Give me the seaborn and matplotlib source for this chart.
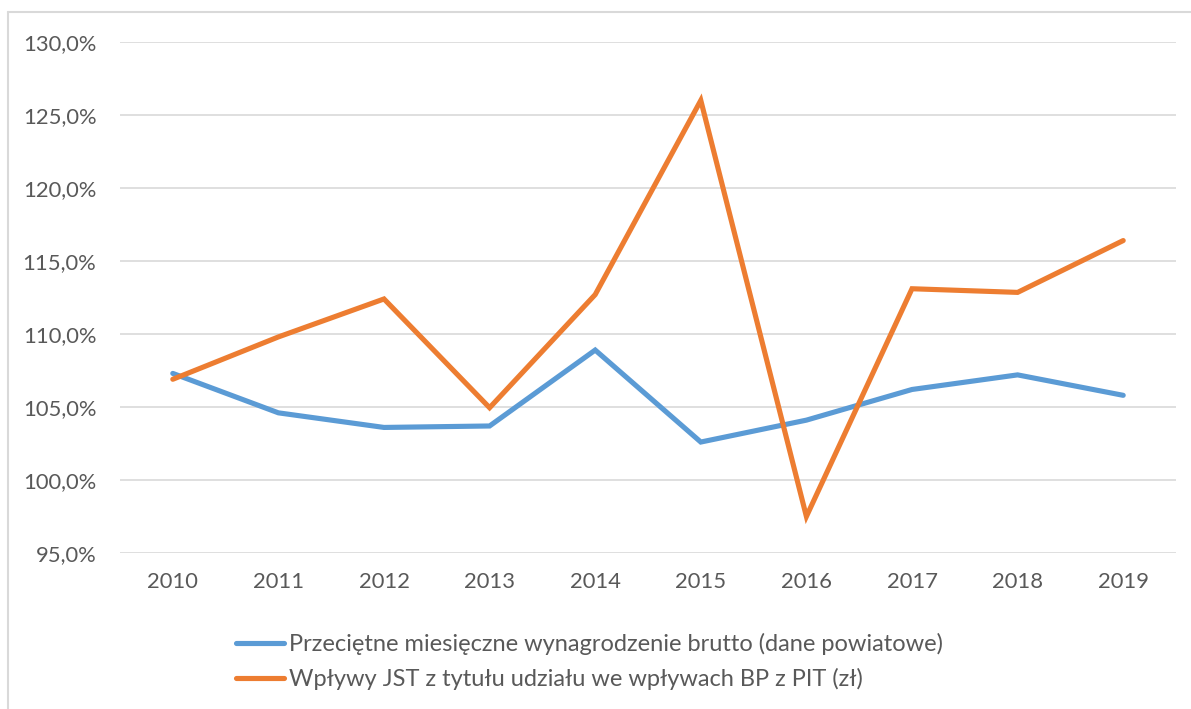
import matplotlib
matplotlib.use("Agg")
import matplotlib.pyplot as plt
from matplotlib.lines import Line2D
import seaborn as sns
import pandas as pd

years = [2010, 2011, 2012, 2013, 2014, 2015, 2016, 2017, 2018, 2019]
wages = [107.3, 104.6, 103.6, 103.7, 108.9, 102.6, 104.1, 106.2, 107.2, 105.8]
pit = [106.9, 109.8, 112.4, 104.95, 112.7, 126.0, 97.5, 113.1, 112.85, 116.4]
series_names = [
    "Przeciętne miesięczne wynagrodzenie brutto (dane powiatowe)",
    "Wpływy JST z tytułu udziału we wpływach BP z PIT (zł)",
]
y_ticks = [95, 100, 105, 110, 115, 120, 125, 130]

df = pd.DataFrame({
    "year": years * 2,
    "value": wages + pit,
    "series": [series_names[0]] * len(years) + [series_names[1]] * len(years),
})

sns.set_theme(style="white")
plt.rcParams["font.family"] = ["Lato", "DejaVu Sans"]
text_color = "#595959"
colors = ["#5B9BD5", "#ED7D31"]

fig = plt.figure(figsize=(11.91, 7.09), dpi=100)
ax = fig.add_axes([120 / 1191, 1 - 553 / 709, (1176 - 120) / 1191, (553 - 42) / 709])

sns.lineplot(data=df, x="year", y="value", hue="series", palette=colors,
             linewidth=3.7, ax=ax, legend=False, sort=False)
for ln in ax.lines:
    ln.set_solid_capstyle("round")
    ln.set_solid_joinstyle("miter")

ax.set_xlim(years[0] - 0.5, years[-1] + 0.5)
ax.set_ylim(95, 130)
ax.set_yticks(y_ticks)
ax.set_yticklabels([f"{v:.1f}%".replace(".", ",") for v in y_ticks])
ax.set_xticks(years)
ax.set_xticklabels([str(y) for y in years])
ax.tick_params(axis="both", length=0, labelsize=15.8, colors=text_color)
ax.tick_params(axis="y", pad=17)
ax.tick_params(axis="x", pad=14)
ax.set_xlabel("")
ax.set_ylabel("")
ax.grid(axis="y", color="#D9D9D9", linewidth=1.2)
ax.set_axisbelow(True)
for s in ax.spines.values():
    s.set_visible(False)

handles = [Line2D([], [], color=c, linewidth=3.7, solid_capstyle="round") for c in colors]
leg = fig.legend(handles, series_names, loc="upper left",
                 bbox_to_anchor=(236 / 1191, 1 - 633 / 709), frameon=False,
                 fontsize=17, handlelength=2.05, handletextpad=0.2,
                 labelspacing=0.55, borderpad=0, borderaxespad=0)
for t in leg.get_texts():
    t.set_color(text_color)

# outer chart frame (left and top edges visible)
fig.add_artist(Line2D([8 / 1191, 8 / 1191], [0, 1 - 12 / 709], transform=fig.transFigure,
                      color="#D9D9D9", linewidth=1.5))
fig.add_artist(Line2D([8 / 1191, 1], [1 - 12 / 709, 1 - 12 / 709], transform=fig.transFigure,
                      color="#D9D9D9", linewidth=1.5))

fig.savefig("out.png", dpi=100)
